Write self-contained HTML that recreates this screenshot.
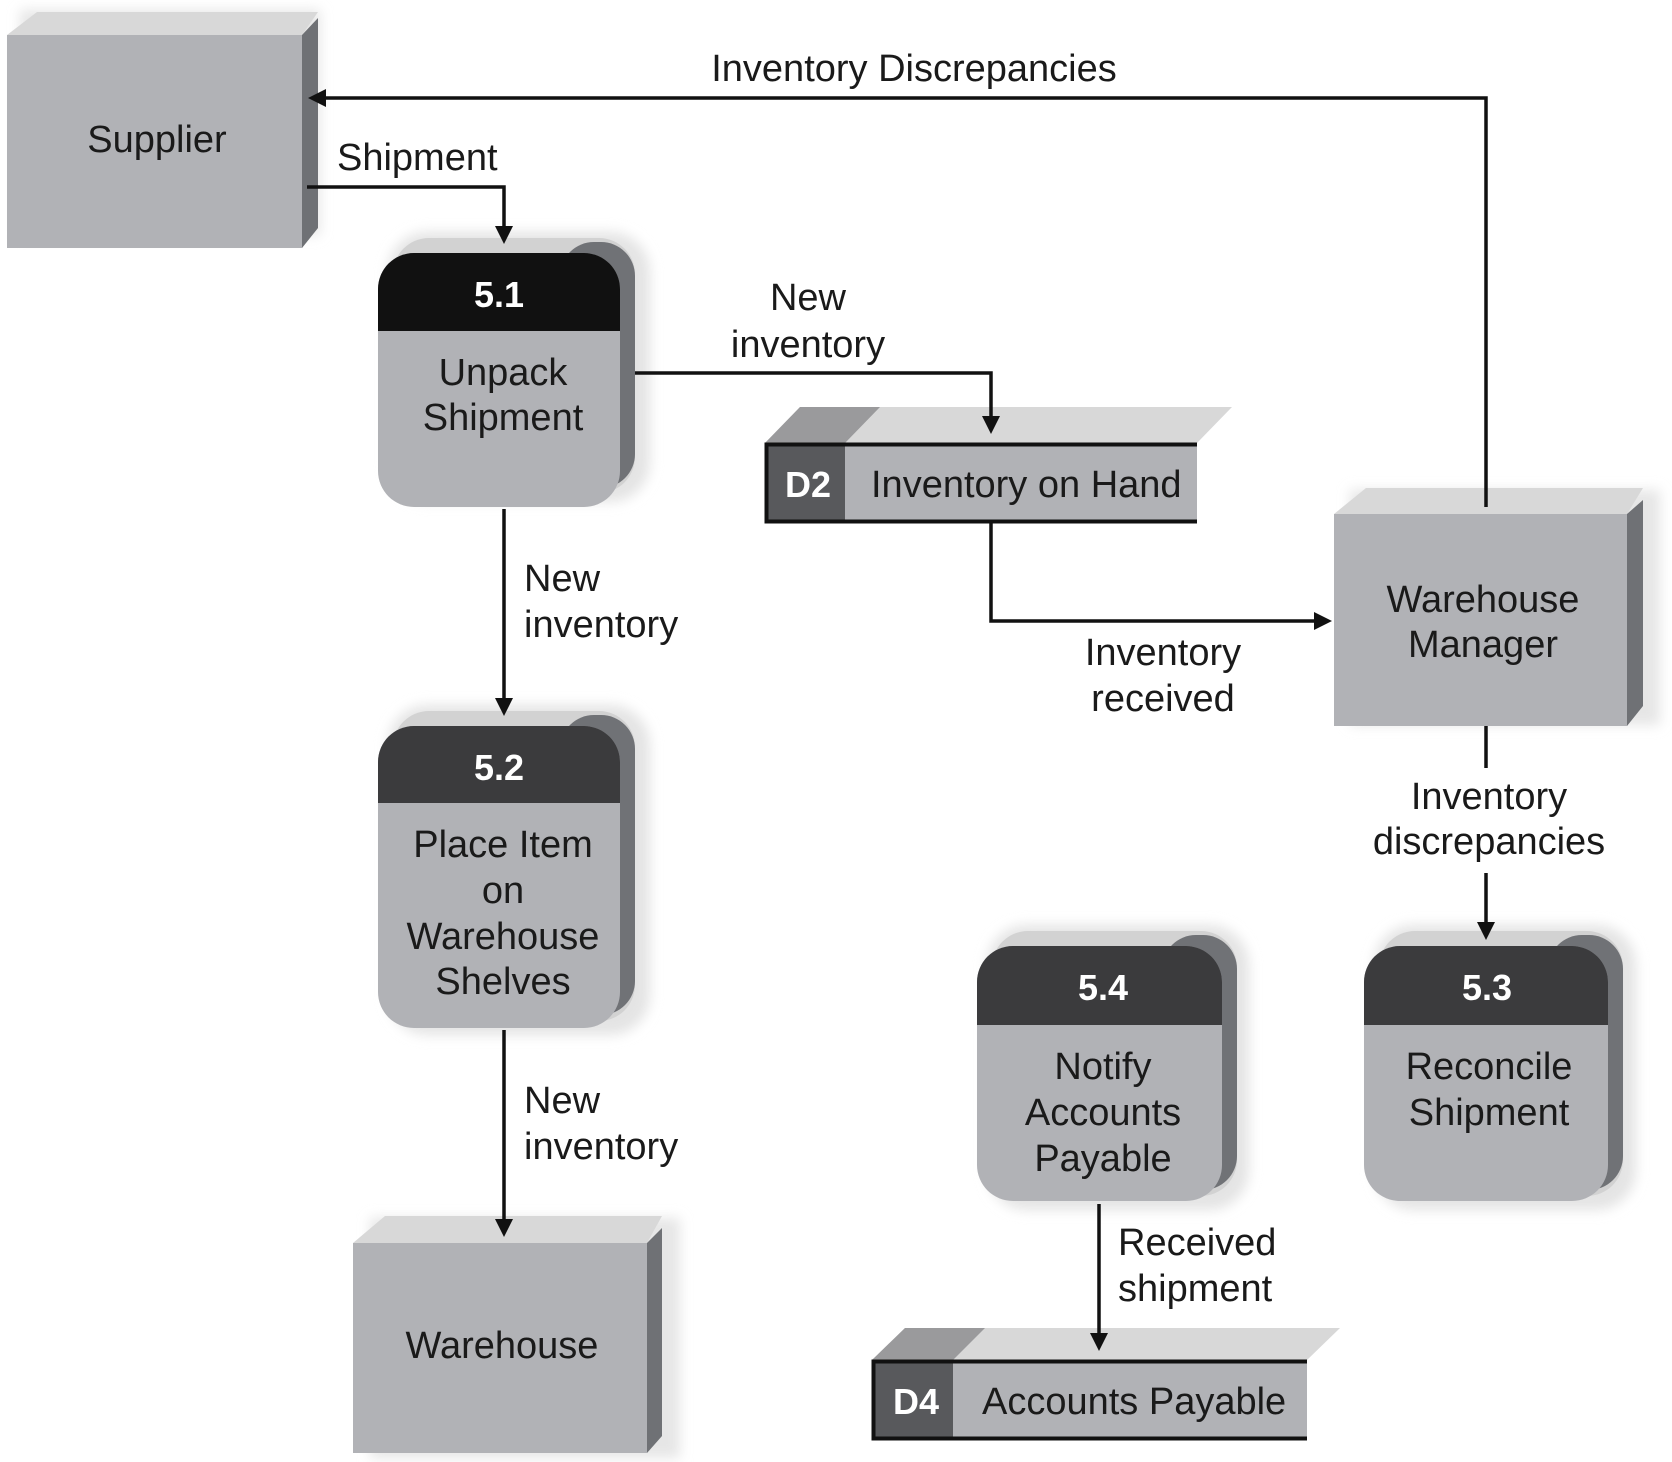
<!DOCTYPE html>
<html><head><meta charset="utf-8"><style>
html,body{margin:0;padding:0;background:#fff}
svg{display:block}
text{font-family:"Liberation Sans",Arial,sans-serif}
</style></head><body>
<svg width="1672" height="1462" viewBox="0 0 1672 1462" xmlns="http://www.w3.org/2000/svg">
<defs>
<filter id="sh" x="-20%" y="-20%" width="140%" height="140%"><feGaussianBlur stdDeviation="6"/></filter>
</defs>

<!-- Supplier -->
<rect x="20" y="10" width="300" height="225" fill="#e6e6e6" filter="url(#sh)"/>
<polygon points="7,35 37,12 318,12 302,35" fill="#d8d8d8"/>
<polygon points="302,35 318,18 318,228 302,248" fill="#6f7175"/>
<rect x="7" y="35" width="295" height="213" fill="#b1b2b6"/>
<text x="157" y="152" font-size="38" text-anchor="middle" fill="#1a1a1a">Supplier</text>

<!-- Warehouse Manager -->
<rect x="1350" y="490" width="310" height="235" fill="#e6e6e6" filter="url(#sh)"/>
<polygon points="1334,514 1366,488 1643,488 1627,514" fill="#d8d8d8"/>
<polygon points="1627,514 1643,500 1643,706 1627,726" fill="#6f7175"/>
<rect x="1334" y="514" width="293" height="212" fill="#b1b2b6"/>
<text x="1483" y="612" font-size="38" text-anchor="middle" fill="#1a1a1a">Warehouse</text>
<text x="1483" y="657" font-size="38" text-anchor="middle" fill="#1a1a1a">Manager</text>

<!-- Warehouse -->
<rect x="370" y="1218" width="310" height="240" fill="#e6e6e6" filter="url(#sh)"/>
<polygon points="353,1243 385,1216 662,1216 647,1243" fill="#d8d8d8"/>
<polygon points="647,1243 662,1228 662,1436 647,1453" fill="#6f7175"/>
<rect x="353" y="1243" width="294" height="210" fill="#b1b2b6"/>
<text x="502" y="1358" font-size="38" text-anchor="middle" fill="#1a1a1a">Warehouse</text>

<!-- Process 5.1 -->
<g>
<rect x="388" y="232" width="262" height="270" rx="40" fill="#e4e4e4" filter="url(#sh)"/>
<rect x="393" y="238" width="242" height="255" rx="36" fill="#d2d2d2"/>
<rect x="560" y="242" width="75" height="246" rx="34" fill="#707276"/>
<rect x="378" y="253" width="242" height="254" rx="36" fill="#b1b2b6"/>
<path d="M378,331 V289 A36,36 0 0 1 414,253 H584 A36,36 0 0 1 620,289 V331 Z" fill="#111"/>
<text x="499" y="307" font-size="36" font-weight="bold" text-anchor="middle" fill="#fff">5.1</text>
<text x="503" y="385" font-size="38" text-anchor="middle" fill="#1a1a1a">Unpack</text>
<text x="503" y="430" font-size="38" text-anchor="middle" fill="#1a1a1a">Shipment</text>
</g>

<!-- Process 5.2 -->
<g>
<rect x="388" y="705" width="262" height="330" rx="40" fill="#e4e4e4" filter="url(#sh)"/>
<rect x="393" y="711" width="242" height="310" rx="36" fill="#d2d2d2"/>
<rect x="560" y="715" width="75" height="300" rx="34" fill="#707276"/>
<rect x="378" y="726" width="242" height="302" rx="36" fill="#b1b2b6"/>
<path d="M378,803 V762 A36,36 0 0 1 414,726 H584 A36,36 0 0 1 620,762 V803 Z" fill="#3b3b3d"/>
<text x="499" y="780" font-size="36" font-weight="bold" text-anchor="middle" fill="#fff">5.2</text>
<text x="503" y="857" font-size="38" text-anchor="middle" fill="#1a1a1a">Place Item</text>
<text x="503" y="903" font-size="38" text-anchor="middle" fill="#1a1a1a">on</text>
<text x="503" y="949" font-size="38" text-anchor="middle" fill="#1a1a1a">Warehouse</text>
<text x="503" y="994" font-size="38" text-anchor="middle" fill="#1a1a1a">Shelves</text>
</g>

<!-- Process 5.4 -->
<g>
<rect x="987" y="925" width="262" height="285" rx="40" fill="#e4e4e4" filter="url(#sh)"/>
<rect x="992" y="931" width="245" height="265" rx="36" fill="#d2d2d2"/>
<rect x="1162" y="935" width="75" height="255" rx="34" fill="#707276"/>
<rect x="977" y="946" width="245" height="255" rx="36" fill="#b1b2b6"/>
<path d="M977,1025 V982 A36,36 0 0 1 1013,946 H1186 A36,36 0 0 1 1222,982 V1025 Z" fill="#3b3b3d"/>
<text x="1103" y="1000" font-size="36" font-weight="bold" text-anchor="middle" fill="#fff">5.4</text>
<text x="1103" y="1079" font-size="38" text-anchor="middle" fill="#1a1a1a">Notify</text>
<text x="1103" y="1125" font-size="38" text-anchor="middle" fill="#1a1a1a">Accounts</text>
<text x="1103" y="1171" font-size="38" text-anchor="middle" fill="#1a1a1a">Payable</text>
</g>

<!-- Process 5.3 -->
<g>
<rect x="1374" y="925" width="262" height="285" rx="40" fill="#e4e4e4" filter="url(#sh)"/>
<rect x="1379" y="931" width="244" height="265" rx="36" fill="#d2d2d2"/>
<rect x="1548" y="935" width="75" height="255" rx="34" fill="#707276"/>
<rect x="1364" y="946" width="244" height="255" rx="36" fill="#b1b2b6"/>
<path d="M1364,1025 V982 A36,36 0 0 1 1400,946 H1572 A36,36 0 0 1 1608,982 V1025 Z" fill="#3b3b3d"/>
<text x="1487" y="1000" font-size="36" font-weight="bold" text-anchor="middle" fill="#fff">5.3</text>
<text x="1489" y="1079" font-size="38" text-anchor="middle" fill="#1a1a1a">Reconcile</text>
<text x="1489" y="1125" font-size="38" text-anchor="middle" fill="#1a1a1a">Shipment</text>
</g>

<!-- D2 store -->
<polygon points="765,443 800,407 1232,407 1197,443" fill="#d8d8d8"/>
<polygon points="765,443 800,407 880,407 845,443" fill="#9a9a9c"/>
<rect x="765" y="443" width="432" height="80" fill="#b1b2b6"/>
<rect x="765" y="443" width="80" height="80" fill="#58595c"/>
<path d="M1197,444.5 H766.5 V521.5 H1197" fill="none" stroke="#111" stroke-width="4"/>
<text x="808" y="497" font-size="36" font-weight="bold" text-anchor="middle" fill="#fff">D2</text>
<text x="871" y="497" font-size="38" fill="#1a1a1a">Inventory on Hand</text>

<!-- D4 store -->
<polygon points="872,1360 905,1328 1340,1328 1307,1360" fill="#d8d8d8"/>
<polygon points="872,1360 905,1328 985,1328 953,1360" fill="#9a9a9c"/>
<rect x="872" y="1360" width="435" height="80" fill="#b1b2b6"/>
<rect x="872" y="1360" width="81" height="80" fill="#58595c"/>
<path d="M1307,1361.5 H873.5 V1438.5 H1307" fill="none" stroke="#111" stroke-width="4"/>
<text x="916" y="1414" font-size="36" font-weight="bold" text-anchor="middle" fill="#fff">D4</text>
<text x="982" y="1414" font-size="38" fill="#1a1a1a">Accounts Payable</text>

<!-- Connectors -->
<g fill="none" stroke="#111" stroke-width="3.5">
<path d="M1486,507 V98 H322"/>
<path d="M307,187 H504 V230"/>
<path d="M635,373 H991 V420"/>
<path d="M504,509 V702"/>
<path d="M504,1030 V1222"/>
<path d="M991,523 V621 H1318"/>
<path d="M1486,726 V768"/>
<path d="M1486,873 V925"/>
<path d="M1099,1204 V1336"/>
</g>
<g fill="#111">
<polygon points="308,98 326,89 326,107"/>
<polygon points="504,244 495,226 513,226"/>
<polygon points="991,434 982,416 1000,416"/>
<polygon points="504,716 495,698 513,698"/>
<polygon points="504,1237 495,1219 513,1219"/>
<polygon points="1332,621 1314,612 1314,630"/>
<polygon points="1486,940 1477,922 1495,922"/>
<polygon points="1099,1351 1090,1333 1108,1333"/>
</g>

<!-- Labels -->
<g font-size="38" fill="#1a1a1a">
<text x="914" y="81" text-anchor="middle">Inventory Discrepancies</text>
<text x="337" y="170">Shipment</text>
<text x="808" y="310" text-anchor="middle">New</text>
<text x="808" y="357" text-anchor="middle">inventory</text>
<text x="524" y="591">New</text>
<text x="524" y="637">inventory</text>
<text x="524" y="1113">New</text>
<text x="524" y="1159">inventory</text>
<text x="1163" y="665" text-anchor="middle">Inventory</text>
<text x="1163" y="711" text-anchor="middle">received</text>
<text x="1489" y="809" text-anchor="middle">Inventory</text>
<text x="1489" y="854" text-anchor="middle">discrepancies</text>
<text x="1118" y="1255">Received</text>
<text x="1118" y="1301">shipment</text>
</g>
</svg>
</body></html>
